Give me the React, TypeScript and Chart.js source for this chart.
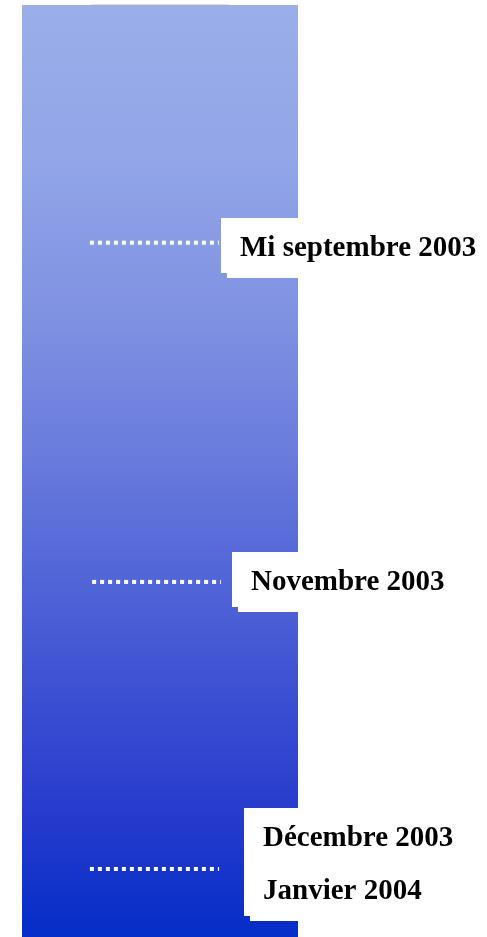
import React, { useEffect, useRef } from "react";
import { Chart, registerables } from "chart.js";

Chart.register(...registerables);

// ---- data ----
const periodCategories = ["Calendrier"];
const timelineSpan: [number, number] = [0, 100];
const milestoneLabels: string[][] = [
  ["Mi septembre 2003"],
  ["Novembre 2003"],
  ["Décembre 2003", "Janvier 2004"],
];
const milestoneValues = [25.5, 61.9, 92.7];

// ---- layout (x in x2 units 0..100 across the bar, offsets in px) ----
const markerStart = [24.6, 25.4, 24.6];
const markerEnd = [71.4, 72.1, 71.4];
const boxLeft = [72.1, 76.1, 80.4];
const boxTopOffset = [-25, -30, -61];
const boxHeight = [55, 55, 108];
const topRule = [25, 75];

const FONT = 'bold 29px "Liberation Serif", "Times New Roman", serif';

const gradientStops: [number, string][] = [
  [0, "rgb(154,174,234)"],
  [0.16, "rgb(146,166,232)"],
  [0.35, "rgb(125,143,225)"],
  [0.49, "rgb(104,122,220)"],
  [0.75, "rgb(58,78,210)"],
  [0.86, "rgb(40,60,205)"],
  [1, "rgb(5,45,200)"],
];

const labelPlugin = {
  id: "milestoneLabels",
  afterDatasetsDraw(chart: any) {
    const ctx = chart.ctx as CanvasRenderingContext2D;
    const x2 = chart.scales.x2;
    const y = chart.scales.y;
    const area = chart.chartArea;
    ctx.save();
    // faint top rule
    ctx.strokeStyle = "#e0dfe8";
    ctx.lineWidth = 1;
    ctx.beginPath();
    ctx.moveTo(x2.getPixelForValue(topRule[0]), area.top - 0.5);
    ctx.lineTo(x2.getPixelForValue(topRule[1]), area.top - 0.5);
    ctx.stroke();

    milestoneLabels.forEach((lines, i) => {
      const py = y.getPixelForValue(milestoneValues[i]);
      const left = Math.round(x2.getPixelForValue(boxLeft[i]));
      const top = Math.round(py + boxTopOffset[i]);
      const h = boxHeight[i];
      const w = chart.width - left;
      ctx.fillStyle = "#ffffff";
      ctx.fillRect(left + 6, top + 5, w, h);
      ctx.fillRect(left, top, w, h);
      ctx.fillStyle = "#000000";
      ctx.font = FONT;
      ctx.textBaseline = "alphabetic";
      ctx.textAlign = "left";
      lines.forEach((t, j) => {
        ctx.fillText(t, left + 19, top + 38 + j * 53);
      });
    });
    ctx.restore();
  },
};

export default function App() {
  const ref = useRef<HTMLCanvasElement | null>(null);
  useEffect(() => {
    if (!ref.current) return;
    const lineSets = milestoneValues.map((v, i) => ({
      type: "line" as const,
      label: milestoneLabels[i].join(" / "),
      xAxisID: "x2",
      yAxisID: "y",
      data: [
        { x: markerStart[i], y: v },
        { x: markerEnd[i], y: v },
      ],
      borderColor: "#ffffff",
      borderWidth: 4,
      borderDash: [4, 4],
      borderCapStyle: "butt" as const,
      pointRadius: 0,
      fill: false,
      order: 0,
    }));
    const chart = new Chart(ref.current, {
      type: "bar",
      data: {
        labels: periodCategories,
        datasets: [
          {
            type: "bar",
            label: "Période",
            data: [timelineSpan] as any,
            xAxisID: "x",
            yAxisID: "y",
            barPercentage: 1,
            categoryPercentage: 1,
            grouped: false,
            borderWidth: 0,
            order: 1,
            backgroundColor: (c: any) => {
              const a = c.chart.chartArea;
              if (!a) return gradientStops[0][1];
              const g = c.chart.ctx.createLinearGradient(0, a.top, 0, a.bottom);
              gradientStops.forEach(([o, col]) => g.addColorStop(o, col));
              return g;
            },
          } as any,
          ...(lineSets as any[]),
        ],
      },
      options: {
        animation: false,
        responsive: false,
        maintainAspectRatio: false,
        layout: { padding: { left: 22, right: 189, top: 5, bottom: 0 } },
        plugins: { legend: { display: false }, tooltip: { enabled: false } },
        scales: {
          x: {
            type: "category",
            display: false,
            offset: true,
            min: periodCategories[0],
            max: periodCategories[0],
            grid: { display: false },
          },
          x2: { type: "linear", display: false, min: 0, max: 100, offset: false, grid: { offset: false } },
          y: { type: "linear", display: false, min: 0, max: 100, reverse: true },
        },
      },
      plugins: [labelPlugin],
    });
    return () => chart.destroy();
  }, []);
  return (
    <div style={{ position: "absolute", left: 0, top: 0, width: 487, height: 937, background: "#fff" }}>
      <canvas ref={ref} width={487} height={937} style={{ width: 487, height: 937, display: "block" }} />
    </div>
  );
}
